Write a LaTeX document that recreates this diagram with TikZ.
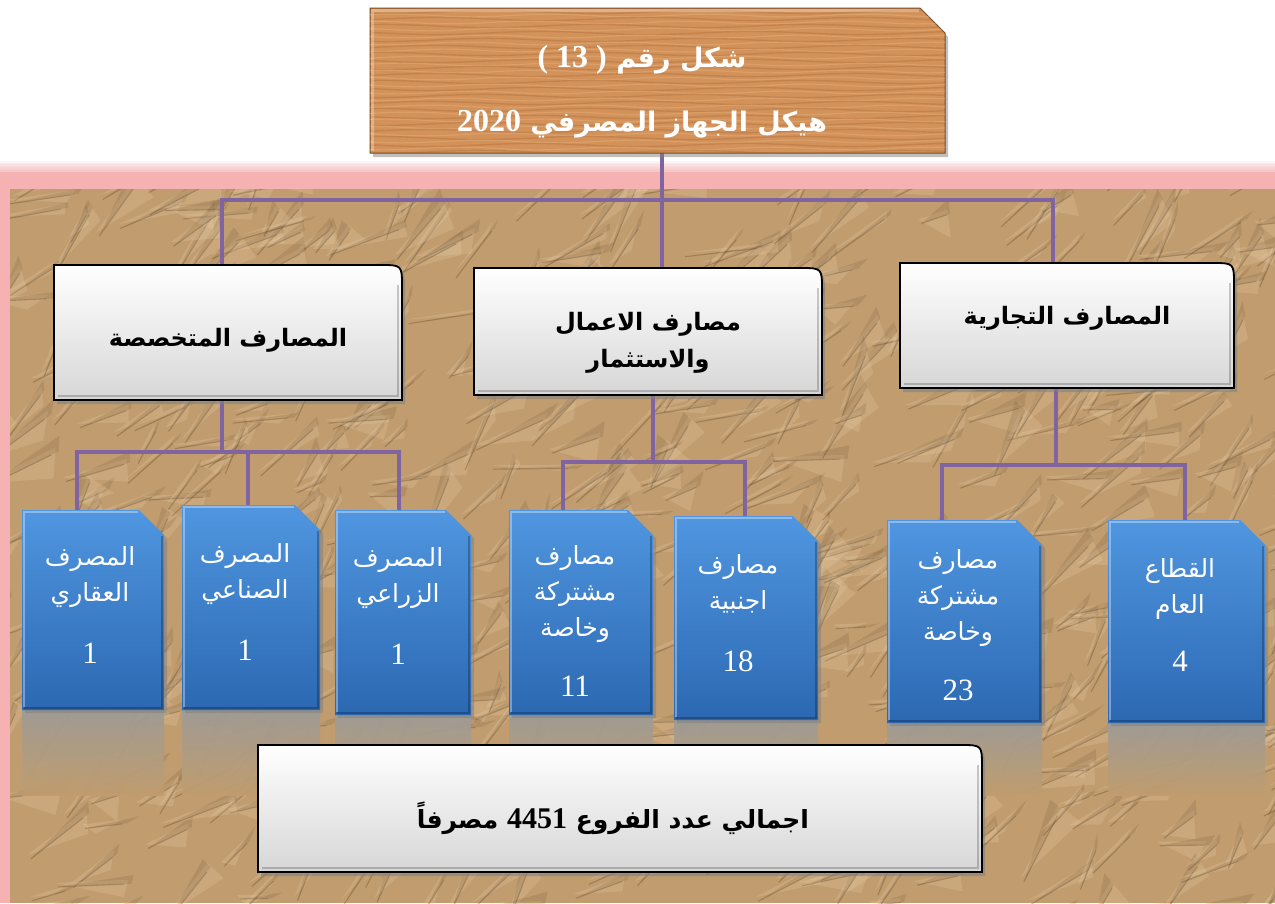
\documentclass[tikz,border=0pt]{standalone}
\usepackage{fontspec}
\setmainfont{Liberation Serif}
\newfontfamily\arfont[Script=Arabic]{DejaVu Sans}
\TeXXeTstate=1
\usetikzlibrary{shadows,fit}
\pgfdeclarelayer{back}
\pgfdeclarelayer{lines}
\pgfdeclarelayer{shapes}
\pgfsetlayers{back,lines,shapes,main}
\definecolor{paper}{RGB}{192,156,110}
\definecolor{paperdark}{RGB}{100,72,42}
\definecolor{paperlight}{RGB}{238,214,176}
\definecolor{pinkglow}{RGB}{246,178,178}
\definecolor{conncol}{RGB}{128,100,162}
\definecolor{bluetop}{RGB}{80,150,224}
\definecolor{bluebot}{RGB}{44,104,178}
\definecolor{woodA}{RGB}{210,146,90}
\definecolor{woodB}{RGB}{172,104,52}
\definecolor{woodC}{RGB}{232,178,124}
\definecolor{reflect}{RGB}{158,155,150}
\tikzset{
  boxnode/.style={inner sep=0pt, outer sep=0pt},
  conn/.style={draw=conncol, line width=4.5pt},
  bluefill/.style={top color=bluetop, bottom color=bluebot},
  bshadow/.style={drop shadow={opacity=.5, shadow xshift=3pt, shadow yshift=-3pt}},
  greyfill/.style={top color=white, bottom color=gray!32},
  bluetext/.style={text=white, align=center, font=\arfont\fontsize{25}{36}\selectfont, inner sep=0pt},
  headtext/.style={text=black, align=center, font=\arfont\bfseries\fontsize{24}{37}\selectfont, inner sep=0pt},
  titletext/.style={text=white, align=center, font=\arfont\bfseries\fontsize{27}{64}\selectfont, inner sep=0pt},
}
\newcommand\bignum{\rmfamily\fontsize{31}{36}\selectfont}
\newcommand\titlenum{\rmfamily\bfseries\fontsize{32}{64}\selectfont}
\newcommand\mkbox[5]{\node[boxnode, fit={(#2,#3) (#4,#5)}] (#1) {};}
\newcommand\bluebox[1]{%
  \begin{pgfonlayer}{shapes}
    \shade[top color=reflect, middle color=reflect!75!paper, bottom color=paper, opacity=.95] (#1.south west) rectangle (#1.south east |- 0,795);
    \path[bluefill, bshadow] (#1.south west) -- (#1.north west) -- ([xshift=-25pt]#1.north east) -- ([yshift=-25pt]#1.north east) -- (#1.south east) -- cycle;
    \draw[white, opacity=.35, line width=1.5pt] ([xshift=2pt,yshift=3pt]#1.south west) -- ([xshift=2pt,yshift=-2pt]#1.north west) -- ([xshift=-26pt,yshift=-2pt]#1.north east);
    \draw[black, opacity=.25, line width=1.5pt] ([xshift=-2pt,yshift=-26pt]#1.north east) -- ([xshift=-2pt,yshift=2pt]#1.south east) -- ([xshift=2pt,yshift=2pt]#1.south west);
  \end{pgfonlayer}}
\newcommand\greybox[1]{%
  \begin{pgfonlayer}{shapes}
    \path[draw=black, line width=1.8pt, greyfill, drop shadow={opacity=.55, shadow xshift=3pt, shadow yshift=-4pt}]
      (#1.south west) -- (#1.north west) -- ([xshift=-22pt]#1.north east) .. controls (#1.north east) .. ([yshift=-22pt]#1.north east) -- (#1.south east) -- cycle;
    \draw[black, opacity=.2, line width=2pt] ([xshift=-4pt,yshift=-20pt]#1.north east) -- ([xshift=-4pt,yshift=4pt]#1.south east) -- ([xshift=4pt,yshift=4pt]#1.south west);
  \end{pgfonlayer}}
\begin{document}
\begin{tikzpicture}[x=1pt,y=-1pt]
\useasboundingbox (0,0) rectangle (1275,903);
% ---------- background ----------
\begin{pgfonlayer}{back}
  \fill[white] (0,0) rectangle (1275,903);
  \foreach \k in {0,...,6}{\fill[pinkglow, opacity=.15] (0,{170-\k*1.5}) rectangle (1275,903);}
  \fill[pinkglow] (0,172) rectangle (1275,903);
  \fill[paper] (10,189) rectangle (1275,903);
  \begin{scope}
    \clip (10,189) rectangle (1275,903);
    \pgfmathsetseed{42}
    \foreach \i in {1,...,650}{%
      \pgfmathsetmacro\px{-20+1300*rnd}%
      \pgfmathsetmacro\py{170+750*rnd}%
      \pgfmathsetmacro\pa{-70+70*rnd}%
      \pgfmathsetmacro\pb{\pa+95+70*rnd}%
      \pgfmathsetmacro\pl{30+55*rnd}%
      \pgfmathsetmacro\pw{10+22*rnd}%
      \fill[paperlight, opacity=.22] (\px,\py) -- ++(\pa:\pl) -- ++(\pb:\pw) -- cycle;
      \fill[paperdark, opacity=.16] (\px+3,\py+4) -- ++(\pa:\pl) -- ++(\pb-180:\pw*0.5) -- cycle;
      \draw[paperdark, opacity=.3, line width=1.1pt] (\px+3,\py+4) -- ++(\pa:\pl*0.9);
    }
  \end{scope}
\end{pgfonlayer}
% ---------- boxes ----------
\mkbox{title}{370}{8}{945}{153}
\mkbox{L2a}{54}{265}{402}{400}
\mkbox{L2b}{474}{268}{822}{395}
\mkbox{L2c}{900}{263}{1234}{388}
\mkbox{B1}{22}{510}{164}{710}
\mkbox{B2}{182}{505}{320}{710}
\mkbox{B3}{335}{510}{471}{715}
\mkbox{B4}{509}{510}{653}{715}
\mkbox{B5}{674}{516}{818}{720}
\mkbox{B6}{887}{520}{1042}{723}
\mkbox{B7}{1108}{520}{1265}{723}
\mkbox{tot}{258}{745}{982}{872}
% title wood
\begin{pgfonlayer}{shapes}
  \path[fill=woodA, draw=woodB!70!black, line width=1pt, drop shadow={opacity=.5, shadow xshift=3pt, shadow yshift=-4pt}]
    (title.south west) -- (title.north west) -- ([xshift=-25pt]title.north east) -- ([yshift=-25pt]title.north east) -- (title.south east) -- cycle;
  \begin{scope}
    \clip (title.south west) -- (title.north west) -- ([xshift=-25pt]title.north east) -- ([yshift=-25pt]title.north east) -- (title.south east) -- cycle;
    \foreach \yy in {12,19,...,152}{%
      \draw[woodB, opacity=.35, line width=1.4pt] plot[domain=370:945, samples=40] (\x, {\yy+1.6*sin(\x*1.7+\yy*13)});
      \draw[woodC, opacity=.45, line width=1.2pt] plot[domain=370:945, samples=40] (\x, {\yy+3.5+1.4*sin(\x*2.3+\yy*7)});
    }
    \draw[white, opacity=.3, line width=3pt] ([xshift=2pt,yshift=2pt]title.south west) -- ([xshift=2pt,yshift=-2pt]title.north west) -- ([xshift=-26pt,yshift=-2pt]title.north east);
  \end{scope}
\end{pgfonlayer}
\greybox{L2a}
\greybox{L2b}
\greybox{L2c}
\bluebox{B1}
\bluebox{B2}
\bluebox{B3}
\bluebox{B4}
\bluebox{B5}
\bluebox{B6}
\bluebox{B7}
\greybox{tot}
% ---------- texts ----------
\node[titletext] (title-t) at (642,92) {\beginR شكل رقم \beginL{\titlenum ( 13 )}\endL\endR\\\beginR هيكل الجهاز المصرفي \beginL{\titlenum 2020}\endL\endR};
\node[headtext] (L2a-t) at (228,340) {\beginR المصارف المتخصصة\endR};
\node[headtext] (L2b-t) at (648,343) {\beginR مصارف الاعمال\endR\\\beginR والاستثمار\endR};
\node[headtext] (L2c-t) at (1067,318) {\beginR المصارف التجارية\endR};
\node[bluetext] (B1-t) at (90,605) {\beginR المصرف\endR\\\beginR العقاري\endR\\[26pt]{\bignum 1}};
\node[bluetext] (B2-t) at (245,602) {\beginR المصرف\endR\\\beginR الصناعي\endR\\[26pt]{\bignum 1}};
\node[bluetext] (B3-t) at (398,606) {\beginR المصرف\endR\\\beginR الزراعي\endR\\[26pt]{\bignum 1}};
\node[bluetext] (B4-t) at (575,621) {\beginR مصارف\endR\\\beginR مشتركة\endR\\\beginR وخاصة\endR\\[24pt]{\bignum 11}};
\node[bluetext] (B5-t) at (738,613) {\beginR مصارف\endR\\\beginR اجنبية\endR\\[26pt]{\bignum 18}};
\node[bluetext] (B6-t) at (958,625) {\beginR مصارف\endR\\\beginR مشتركة\endR\\\beginR وخاصة\endR\\[24pt]{\bignum 23}};
\node[bluetext] (B7-t) at (1180,615) {\beginR القطاع\endR\\\beginR العام\endR\\[22pt]{\bignum 4}};
\node[headtext, font=\arfont\bfseries\fontsize{25}{30}\selectfont] (tot-t) at (613,818) {\beginR اجمالي عدد الفروع \beginL{\rmfamily\bfseries\fontsize{30}{30}\selectfont 4451}\endL{} مصرفاً\endR};
% ---------- connectors ----------
\coordinate (km) at (662,0);
\coordinate (ka) at (222,0);
\coordinate (kc) at (1053,0);
\coordinate (busA) at (0,200);
\coordinate (busB) at (0,452);
\coordinate (busC) at (0,462);
\coordinate (busD) at (0,465);
\coordinate (kb) at (653,0);
\coordinate (kd) at (1056,0);
\coordinate (k1) at (77,0);
\coordinate (k2) at (248,0);
\coordinate (k3) at (399,0);
\coordinate (k4) at (563,0);
\coordinate (k5) at (745,0);
\coordinate (k6) at (942,0);
\coordinate (k7) at (1185,0);
\begin{pgfonlayer}{lines}
  \draw[conn] (km |- title.south) -- (km |- L2b.north);
  \draw[conn] (ka |- L2a.north) |- (kc |- busA) -- (kc |- L2c.north);
  \draw[conn] (ka |- L2a.south) -- (ka |- busB);
  \draw[conn] (k1 |- B1.north) |- (k3 |- busB) -- (k3 |- B3.north);
  \draw[conn] (k2 |- busB) -- (k2 |- B2.north);
  \draw[conn] (kb |- L2b.south) -- (kb |- busC);
  \draw[conn] (k4 |- B4.north) |- (k5 |- busC) -- (k5 |- B5.north);
  \draw[conn] (kd |- L2c.south) -- (kd |- busD);
  \draw[conn] (k6 |- B6.north) |- (k7 |- busD) -- (k7 |- B7.north);
\end{pgfonlayer}
\end{tikzpicture}
\end{document}
